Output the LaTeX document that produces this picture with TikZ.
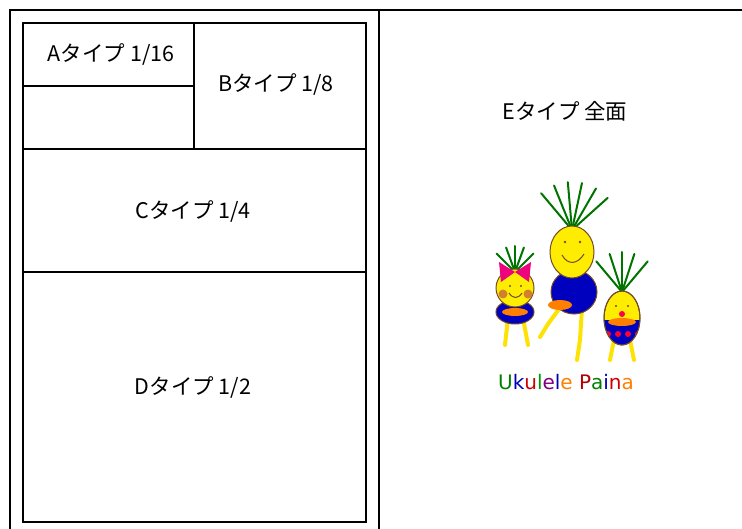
\documentclass[tikz,border=0pt]{standalone}
\usepackage{fontspec}
\setmainfont{Noto Sans CJK JP}
\newfontfamily\logofont{DejaVu Sans}
\begin{document}
\begin{tikzpicture}[x=1pt,y=-1pt,
  frame/.style={line width=2pt},
  cell/.style={line width=2.6pt},
  sizelabel/.style={font=\fontsize{21.5}{25}\selectfont},
  leaf/.style={draw=green!45!black,line width=2pt,line cap=round},
  skin/.style={draw=brown!60!black,fill=yellow!95!orange,line width=1pt},
  shirt/.style={draw=brown!60!black,fill=blue!75!black,line width=1pt},
  limb/.style={draw=yellow!85!orange,line width=4pt,line cap=round}]
\useasboundingbox (0,0) rectangle (742,529);
%outer sheet and divider
\draw[frame] (10,529) -- (10,10) -- (742,10);
\draw[frame] (379,10) -- (379,529);
%ad sizes on the left page
\draw[cell] (23,23) rectangle (366,522);
\draw[cell] (194,23) -- (194,149);
\draw[cell] (23,86) -- (194,86);
\draw[cell] (23,149) -- (366,149);
\draw[cell] (23,272) -- (366,272);
%labels
\node[sizelabel] (a) at (111,54) {Aタイプ 1/16};
\node[sizelabel] (b) at (276,84) {Bタイプ 1/8};
\node[sizelabel] (c) at (193,211) {Cタイプ 1/4};
\node[sizelabel] (d) at (193,387) {Dタイプ 1/2};
\node[sizelabel] (e) at (565,111) {Eタイプ 全面};
%big pineapple
\foreach \a in {-40,-22,-5,12,30,48} \draw[leaf] (572,230) -- ++(-90+\a:48);
\draw[limb] (562,305) -- (548,324) -- (540,337);
\draw[limb] (582,308) -- (580,340) -- (577,360);
\draw[shirt] (574,292) ellipse (23 and 22);
\fill[orange] (560,305) ellipse (12 and 5);
\draw[skin] (572,252) ellipse (22 and 26);
\fill[brown!60!black] (565,242) circle (1.3pt) (580,242) circle (1.3pt);
\draw[brown!60!black,line width=1pt] (562,255) .. controls (568,266) and (578,264) .. (584,254);
%girl pineapple
\foreach \a in {-45,-20,0,20,45} \draw[leaf] (515,272) -- ++(-90+\a:26);
\draw[limb] (508,318) -- (505,345);
\draw[limb] (523,318) -- (528,345);
\draw[shirt] (515,312) ellipse (19 and 12);
\fill[orange] (515,312) ellipse (13 and 4);
\draw[skin] (515,288) circle (19);
\fill[magenta!85!red] (515,272) -- (499,262) -- (501,282) -- cycle;
\fill[magenta!85!red] (515,272) -- (531,262) -- (529,282) -- cycle;
\fill[brown!70!orange] (503,294) circle (4.5) (528,294) circle (4.5);
\fill[brown!60!black] (510,286) circle (1.2pt) (521,286) circle (1.2pt);
\draw[brown!60!black,line width=1pt] (509,293) .. controls (513,299) and (518,299) .. (522,293);
%small pineapple on the right
\foreach \a in {-40,-18,0,18,40} \draw[leaf] (622,292) -- ++(-90+\a:40);
\draw[limb] (614,340) -- (610,360);
\draw[limb] (630,340) -- (634,360);
\draw[skin] (622,318) ellipse (18 and 27);
\begin{scope}
  \clip (622,318) ellipse (18 and 27);
  \fill[blue!75!black] (600,320) rectangle (645,350);
  \fill[orange] (622,322) ellipse (14 and 4);
  \foreach \x in {608,618,628,638} \fill[red!80!magenta] (\x,334) circle (3);
\end{scope}
\draw[brown!60!black,line width=1pt] (622,318) ellipse (18 and 27);
\fill[brown!60!black] (616,306) circle (1.2pt) (628,306) circle (1.2pt);
\fill[red!70!magenta] (622,314) circle (3);
%logo text
\node[font=\logofont\fontsize{20}{23}\selectfont] (logo) at (566,382)
  {\textcolor{green!50!black}{U}\textcolor{blue!70!black}{k}\textcolor{red!80!black}{u}\textcolor{green!60!black}{l}\textcolor{violet}{e}\textcolor{blue!70!black}{l}\textcolor{orange}{e}
   \textcolor{red!70!black}{P}\textcolor{green!50!black}{a}\textcolor{blue!70!black}{i}\textcolor{red!80!black}{n}\textcolor{orange}{a}};
\end{tikzpicture}
\end{document}
